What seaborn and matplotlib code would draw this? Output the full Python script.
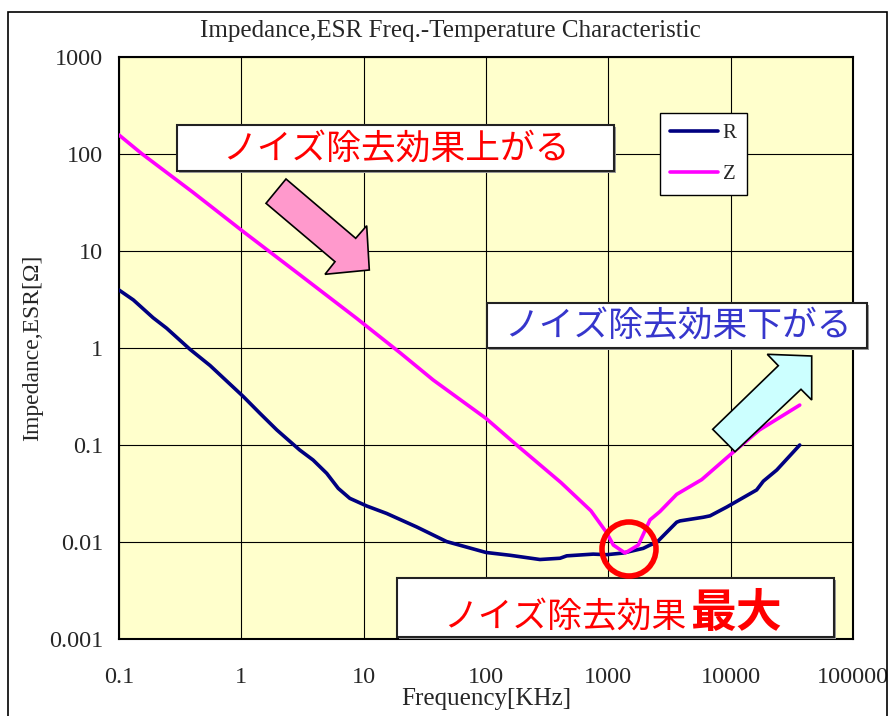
import matplotlib
matplotlib.use("Agg")
import matplotlib.pyplot as plt
from matplotlib.patches import Polygon, Rectangle, Ellipse
from matplotlib.lines import Line2D
import numpy as np
import pandas as pd
import seaborn as sns

# ---- data -------------------------------------------------------------
r_freq = [0.1, 0.131, 0.19, 0.245, 0.38, 0.555, 1.04, 1.42, 1.95, 3.0, 3.86,
          4.99, 6.2, 7.7, 10.6, 15.4, 27.1, 47.7, 100, 157, 276, 403, 457,
          753, 968, 1325, 1930, 2190, 2485, 3620, 3855, 5980, 6780, 9270,
          16300, 18500, 23800, 36700]
r_ohm = [3.96, 3.13, 2.05, 1.6, 0.97, 0.66, 0.315, 0.212, 0.143, 0.0888, 0.070,
         0.051, 0.0357, 0.0282, 0.0235, 0.0197, 0.0143, 0.0101, 0.0078, 0.0073,
         0.0066, 0.0068, 0.0072, 0.0075, 0.0074, 0.0077, 0.0086, 0.0093, 0.0099,
         0.0160, 0.0165, 0.0180, 0.0186, 0.0229, 0.0344, 0.0424, 0.0552, 0.100]

z_freq = [0.1, 0.153, 0.4, 1.04, 3.0, 8.77, 20, 37, 100, 178, 410, 720, 968,
          1099, 1370, 1758, 2190, 2640, 3620, 5800, 9880, 17200, 36700]
z_ohm = [157, 101, 40.5, 15.8, 5.7, 2.02, 0.886, 0.468, 0.188, 0.1, 0.041,
         0.021, 0.0125, 0.0093, 0.0077, 0.0093, 0.0169, 0.0206, 0.031, 0.044,
         0.079, 0.143, 0.258]

series_names = ["R", "Z"]
series_colors = ["#000080", "#FF00FF"]

x_ticks = [0.1, 1, 10, 100, 1000, 10000, 100000]
x_tick_labels = ["0.1", "1", "10", "100", "1000", "10000", "100000"]
y_ticks = [0.001, 0.01, 0.1, 1, 10, 100, 1000]
y_tick_labels = ["0.001", "0.01", "0.1", "1", "10", "100", "1000"]

title_text = "Impedance,ESR Freq.-Temperature Characteristic"
x_label = "Frequency[KHz]"
y_label = "Impedance,ESR[Ω]"
note_up = "ノイズ除去効果上がる"
note_down = "ノイズ除去効果下がる"
note_best_a = "ノイズ除去効果"
note_best_b = "最大"

df = pd.concat([
    pd.DataFrame({"freq": r_freq, "ohm": r_ohm, "kind": "R"}),
    pd.DataFrame({"freq": z_freq, "ohm": z_ohm, "kind": "Z"}),
], ignore_index=True)

# ---- style ------------------------------------------------------------
sns.set_style("white")
plt.rcParams["font.family"] = ["Liberation Serif", "DejaVu Serif"]
JP = ["Noto Sans CJK JP", "DejaVu Sans"]

W, H = 891, 716
fig = plt.figure(figsize=(W / 100, H / 100), dpi=100)
fig.patch.set_facecolor("white")


def fx(x):
    return x / W


def fy(y):
    return 1 - y / H


ax = fig.add_axes([fx(119), fy(639), fx(853) - fx(119), fy(57) - fy(639)])
ax.set_facecolor("#FFFFCC")

sns.lineplot(data=df, x="freq", y="ohm", hue="kind", hue_order=series_names,
             palette=dict(zip(series_names, series_colors)), linewidth=2.6,
             sort=True, estimator=None, ax=ax, zorder=3)

ax.set_xscale("log")
ax.set_yscale("log")
ax.set_xlim(0.1, 100000)
ax.set_ylim(0.001, 1000)
ax.set_xticks(x_ticks)
ax.set_xticklabels(x_tick_labels)
ax.set_yticks(y_ticks)
ax.set_yticklabels(y_tick_labels)
ax.minorticks_off()
ax.tick_params(length=0, labelsize=17.5)
ax.tick_params(axis="y", pad=11.5)
ax.tick_params(axis="x", pad=20)
ax.grid(True, which="major", color="black", linewidth=0.8)
for s in ax.spines.values():
    s.set_color("black")
    s.set_linewidth(1.5)

ax.set_xlabel(x_label, fontsize=18, labelpad=0)
ax.set_ylabel(y_label, fontsize=17, labelpad=4)

fig.text(0.5 * (fx(193) + fx(707)), fy(31), title_text, fontsize=18,
         ha="center", va="center")

# legend
handles = [Line2D([], [], color=c, lw=2.6) for c in series_colors]
ax.legend(handles, series_names, loc="upper left",
          bbox_to_anchor=(fx(660), fy(113)), bbox_transform=fig.transFigure,
          borderaxespad=0, frameon=True, fancybox=False, framealpha=1,
          edgecolor="black", facecolor="white", fontsize=15,
          handlelength=2.3, handletextpad=0.2, labelspacing=1.05,
          borderpad=0.5)
ax.get_legend().get_frame().set_linewidth(1.0)


# ---- annotation boxes -------------------------------------------------
def box(x0, y0, x1, y1):
    fig.patches.append(Rectangle((fx(x0) + 2 / W, fy(y1) - 2 / H),
                                 fx(x1) - fx(x0), fy(y0) - fy(y1),
                                 transform=fig.transFigure, facecolor="#9a9a9a",
                                 edgecolor="none", zorder=5))
    fig.patches.append(Rectangle((fx(x0), fy(y1)), fx(x1) - fx(x0),
                                 fy(y0) - fy(y1), transform=fig.transFigure,
                                 facecolor="white", edgecolor="#222222",
                                 linewidth=1.5, zorder=6))


box(177, 125, 614, 171)
fig.text(fx(396), fy(149), note_up, color="#FF0000", fontsize=25,
         family=JP, ha="center", va="center", zorder=7)

box(487, 303, 867, 348)
fig.text(fx(678), fy(326), note_down, color="#3636CC", fontsize=25,
         family=JP, ha="center", va="center", zorder=7)

box(397, 578, 834, 637)
fig.text(fx(686), fy(627), note_best_a, color="#FF0000", fontsize=25,
         family=JP, ha="right", va="baseline", zorder=7)
fig.text(fx(690), fy(627), note_best_b, color="#FF0000", fontsize=33,
         family=JP, weight="bold", ha="left", va="baseline", zorder=7)

# ---- arrows -----------------------------------------------------------
pink_arrow = [(286, 179), (355.7, 238.3), (366.7, 225.7), (369.3, 270),
              (325, 274.3), (335, 261.7), (266, 203.3)]
cyan_arrow = [(811.7, 356), (767.3, 354.3), (778.3, 365.7), (712.7, 429.3),
              (735, 451.7), (801, 389.3), (811.7, 400)]
for pts, col in ((pink_arrow, "#FF99CC"), (cyan_arrow, "#CCFFFF")):
    fig.patches.append(Polygon([(fx(x), fy(y)) for x, y in pts], closed=True,
                               transform=fig.transFigure, facecolor=col,
                               edgecolor="black", linewidth=1.2, zorder=6))

# ring around the resonance point
fig.patches.append(Ellipse((fx(629), fy(549)), 54 / W, 54 / H,
                           transform=fig.transFigure, facecolor="none",
                           edgecolor="#FF0000", linewidth=4.0, zorder=6))

# outer frame
fig.patches.append(Rectangle((fx(8), -0.02), fx(887) - fx(8), fy(12) + 0.02,
                             transform=fig.transFigure, facecolor="none",
                             edgecolor="black", linewidth=1.2, zorder=1))

fig.savefig("out.png", dpi=100)
